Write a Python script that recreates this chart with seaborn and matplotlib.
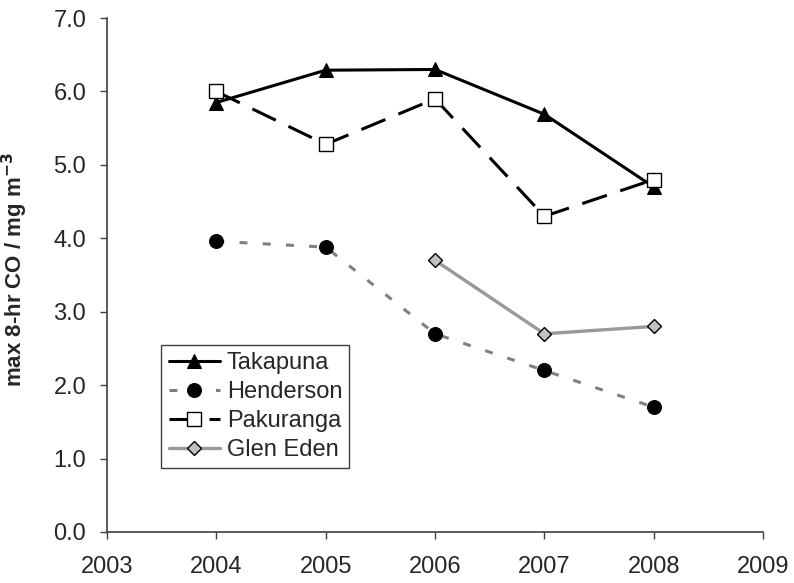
import numpy as np
import pandas as pd
import matplotlib
matplotlib.use("Agg")
import matplotlib.pyplot as plt
import seaborn as sns

# data
years = [2004, 2005, 2006, 2007, 2008]
takapuna = [5.85, 6.29, 6.30, 5.69, 4.70]
henderson = [3.96, 3.88, 2.70, 2.20, 1.70]
pakuranga = [6.00, 5.28, 5.90, 4.30, 4.80]
glen_eden_years = [2006, 2007, 2008]
glen_eden = [3.70, 2.70, 2.80]

sns.set_theme(style="white")
plt.rcParams['font.family'] = ['Liberation Sans', 'DejaVu Sans']

fig = plt.figure(figsize=(7.94, 5.83), dpi=100)
ax = fig.add_axes([0.1348, 0.0875, 0.8262, 0.8815])

# one entry per series: (name, x, y, style)
series = [
    ("Takapuna", years, takapuna,
     dict(color="black", lw=2.2, marker="^", ms=9.5, mfc="black", mec="black", ls="-")),
    ("Henderson", years, henderson,
     dict(color="#808080", lw=2.2, marker="o", ms=10, mfc="black", mec="black", dashes=(2.6, 5.0))),
    ("Pakuranga", years, pakuranga,
     dict(color="black", lw=2.2, marker="s", ms=9.5, mfc="white", mec="black", mew=1.0, dashes=(8.5, 4.6))),
    ("Glen Eden", glen_eden_years, glen_eden,
     dict(color="#999999", lw=2.4, marker="D", ms=7.5, mfc="#c0c0c0", mec="black", mew=1.0, ls="-")),
]

for name, xs, ys, st in series:
    df = pd.DataFrame({"year": xs, "co": ys})
    sns.lineplot(data=df, x="year", y="co", ax=ax, label=name, **st)

ax.set_xlim(2003, 2009)
ax.set_ylim(0, 7)
ax.set_xticks(range(2003, 2010))
ax.set_yticks(np.arange(0, 7.5, 1.0))
ax.set_yticklabels([f"{v:.1f}" for v in np.arange(0, 7.5, 1.0)])
ax.set_xlabel("")
ax.set_ylabel("max 8-hr CO / mg m$^{\\mathbf{-3}}$", fontsize=16, fontweight="bold")
ax.yaxis.set_label_coords(-0.117, 0.51)

for side in ["top", "right"]:
    ax.spines[side].set_visible(False)
for side in ["left", "bottom"]:
    ax.spines[side].set_color("#404040")
    ax.spines[side].set_linewidth(1.2)
ax.tick_params(axis="both", direction="out", length=5, width=1, color="#404040",
               labelsize=17, left=True, bottom=True)
ax.tick_params(axis="x", pad=12)
ax.tick_params(axis="y", pad=10)

leg = ax.legend(loc="lower left", bbox_to_anchor=(0.083, 0.124), fontsize=17,
                frameon=True, fancybox=False, edgecolor="#404040", framealpha=1,
                handlelength=2.17, handletextpad=0.3, borderpad=0.3, labelspacing=0.3,
                borderaxespad=0)
leg.get_frame().set_linewidth(1.0)

fig.savefig("out.png", dpi=100)
